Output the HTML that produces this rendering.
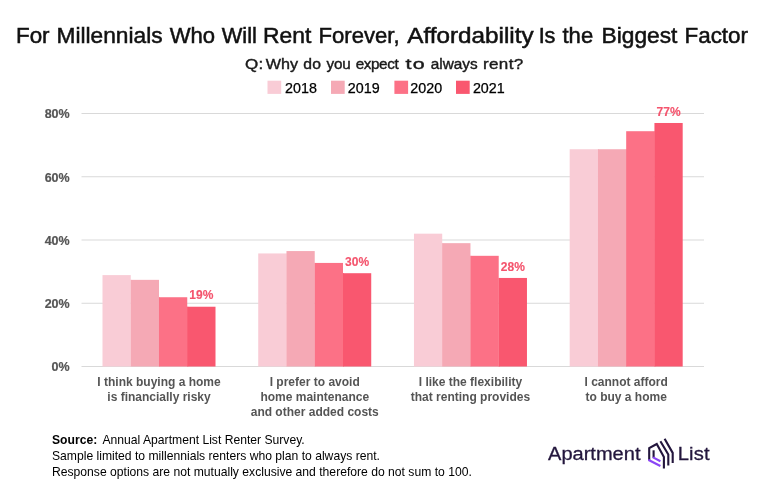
<!DOCTYPE html>
<html><head><meta charset="utf-8"><title>Chart</title>
<style>
html,body{margin:0;padding:0;background:#fff;}
svg{display:block;}
text{font-family:"Liberation Sans",Arial,Helvetica,sans-serif;}
.title{font-size:21.7px;fill:#111;stroke:#111;stroke-width:0.5px;}
.sub{font-size:14.8px;fill:#1a1a1a;stroke:#1a1a1a;stroke-width:0.4px;}
.leg{font-size:14.3px;fill:#000;stroke:#000;stroke-width:0.25px;}
.ax{font-size:12.5px;font-weight:bold;fill:#555;stroke:#555;stroke-width:0.2px;}
.cat{font-size:12px;font-weight:bold;fill:#555;}
.val{font-size:12px;font-weight:bold;fill:#f4546d;stroke:#f4546d;stroke-width:0.15px;}
.src{font-size:12.15px;fill:#000;}
.logo{font-size:19px;fill:#23163d;stroke:#23163d;stroke-width:0.3px;}
</style></head><body>
<svg width="764" height="497" viewBox="0 0 764 497">
<rect width="764" height="497" fill="#ffffff"/>
<text class="title" transform="translate(16.00,43.2) scale(1.0323,1)" textLength="32.53">For</text>
<text class="title" transform="translate(56.50,43.2) scale(1.0479,1)" textLength="101.25">Millennials</text>
<text class="title" transform="translate(169.75,43.2) scale(1.0169,1)" textLength="44.59">Who</text>
<text class="title" transform="translate(221.75,43.2) scale(1.0074,1)" textLength="34.94">Will</text>
<text class="title" transform="translate(263.00,43.2) scale(1.0562,1)" textLength="45.81">Rent</text>
<text class="title" transform="translate(318.50,43.2) scale(1.0196,1)" textLength="79.56">Forever,</text>
<text class="title" transform="translate(407.25,43.2) scale(1.1192,1)" textLength="112.92">Affordability</text>
<text class="title" transform="translate(538.75,43.2) scale(1.0000,1)" textLength="16.62">Is</text>
<text class="title" transform="translate(562.50,43.2) scale(1.0169,1)" textLength="30.16">the</text>
<text class="title" transform="translate(601.50,43.2) scale(1.0493,1)" textLength="72.34">Biggest</text>
<text class="title" transform="translate(684.50,43.2) scale(1.0333,1)" textLength="61.47">Factor</text>
<text class="sub" transform="translate(245.00,68.9) scale(1.1500,1)" textLength="15.84">Q:</text>
<text class="sub" transform="translate(265.75,68.9) scale(1.0924,1)" textLength="29.61">Why</text>
<text class="sub" transform="translate(303.25,68.9) scale(1.0635,1)" textLength="16.70">do</text>
<text class="sub" transform="translate(326.50,68.9) scale(1.0300,1)" textLength="23.62">you</text>
<text class="sub" transform="translate(355.75,68.9) scale(1.0300,1)" textLength="41.67">expect</text>
<text class="sub" transform="translate(405.60,68.9) scale(1.4500,1)" textLength="13.21">to</text>
<text class="sub" transform="translate(430.75,68.9) scale(1.0393,1)" textLength="45.23">always</text>
<text class="sub" transform="translate(483.00,68.9) scale(1.1500,1)" textLength="35.04">rent?</text>
<rect x="267.5" y="80.7" width="13.7" height="13.2" fill="#f9ccd6"/><text class="leg" x="285.1" y="92.7">2018</text>
<rect x="331" y="80.7" width="13.7" height="13.2" fill="#f5a9b5"/><text class="leg" x="347.8" y="92.7">2019</text>
<rect x="394.4" y="80.7" width="13.7" height="13.2" fill="#fc7186"/><text class="leg" x="410.3" y="92.7">2020</text>
<rect x="456" y="80.7" width="13.7" height="13.2" fill="#f9576f"/><text class="leg" x="472.9" y="92.7">2021</text>
<line x1="81.5" x2="704" y1="366.5" y2="366.5" stroke="#d9d9d9" stroke-width="1"/><text class="ax" x="69.7" y="371.40" text-anchor="end">0%</text>
<line x1="81.5" x2="704" y1="303.25" y2="303.25" stroke="#d9d9d9" stroke-width="1"/><text class="ax" x="69.7" y="308.15" text-anchor="end">20%</text>
<line x1="81.5" x2="704" y1="240.0" y2="240.0" stroke="#d9d9d9" stroke-width="1"/><text class="ax" x="69.7" y="244.90" text-anchor="end">40%</text>
<line x1="81.5" x2="704" y1="176.75" y2="176.75" stroke="#d9d9d9" stroke-width="1"/><text class="ax" x="69.7" y="181.65" text-anchor="end">60%</text>
<line x1="81.5" x2="704" y1="113.5" y2="113.5" stroke="#d9d9d9" stroke-width="1"/><text class="ax" x="69.7" y="118.40" text-anchor="end">80%</text>
<rect x="102.50" y="275.10" width="28.25" height="91.40" fill="#f9ccd6"/><rect x="130.65" y="279.85" width="1.1" height="86.65" fill="#f9ccd6"/><rect x="130.75" y="279.85" width="28.25" height="86.65" fill="#f5a9b5"/><rect x="158.90" y="297.24" width="1.1" height="69.26" fill="#f5a9b5"/><rect x="159.00" y="297.24" width="28.25" height="69.26" fill="#fc7186"/><rect x="187.15" y="306.73" width="1.1" height="59.77" fill="#fc7186"/><rect x="187.25" y="306.73" width="28.25" height="59.77" fill="#f9576f"/><text class="val" x="201.38" y="299.33" text-anchor="middle">19%</text>
<text class="cat" x="159.00" y="386.3" text-anchor="middle">I think buying a home</text>
<text class="cat" x="159.00" y="400.9" text-anchor="middle">is financially risky</text>
<rect x="258.23" y="253.44" width="28.25" height="113.06" fill="#f9ccd6"/><rect x="286.38" y="253.44" width="1.1" height="113.06" fill="#f9ccd6"/><rect x="286.48" y="251.07" width="28.25" height="115.43" fill="#f5a9b5"/><rect x="314.63" y="262.93" width="1.1" height="103.57" fill="#f5a9b5"/><rect x="314.73" y="262.93" width="28.25" height="103.57" fill="#fc7186"/><rect x="342.88" y="273.21" width="1.1" height="93.29" fill="#fc7186"/><rect x="342.98" y="273.21" width="28.25" height="93.29" fill="#f9576f"/><text class="val" x="357.11" y="265.81" text-anchor="middle">30%</text>
<text class="cat" x="314.73" y="386.3" text-anchor="middle">I prefer to avoid</text>
<text class="cat" x="314.73" y="400.9" text-anchor="middle">home maintenance</text>
<text class="cat" x="314.73" y="415.5" text-anchor="middle">and other added costs</text>
<rect x="413.96" y="233.67" width="28.25" height="132.83" fill="#f9ccd6"/><rect x="442.11" y="243.16" width="1.1" height="123.34" fill="#f9ccd6"/><rect x="442.21" y="243.16" width="28.25" height="123.34" fill="#f5a9b5"/><rect x="470.36" y="255.81" width="1.1" height="110.69" fill="#f5a9b5"/><rect x="470.46" y="255.81" width="28.25" height="110.69" fill="#fc7186"/><rect x="498.61" y="277.95" width="1.1" height="88.55" fill="#fc7186"/><rect x="498.71" y="277.95" width="28.25" height="88.55" fill="#f9576f"/><text class="val" x="512.84" y="270.55" text-anchor="middle">28%</text>
<text class="cat" x="470.46" y="386.3" text-anchor="middle">I like the flexibility</text>
<text class="cat" x="470.46" y="400.9" text-anchor="middle">that renting provides</text>
<rect x="569.69" y="149.24" width="28.25" height="217.26" fill="#f9ccd6"/><rect x="597.84" y="149.24" width="1.1" height="217.26" fill="#f9ccd6"/><rect x="597.94" y="149.24" width="28.25" height="217.26" fill="#f5a9b5"/><rect x="626.09" y="149.24" width="1.1" height="217.26" fill="#f5a9b5"/><rect x="626.19" y="131.21" width="28.25" height="235.29" fill="#fc7186"/><rect x="654.34" y="131.21" width="1.1" height="235.29" fill="#fc7186"/><rect x="654.44" y="122.99" width="28.25" height="243.51" fill="#f9576f"/><text class="val" x="668.56" y="115.59" text-anchor="middle">77%</text>
<text class="cat" x="626.19" y="386.3" text-anchor="middle">I cannot afford</text>
<text class="cat" x="626.19" y="400.9" text-anchor="middle">to buy a home</text>
<text class="src" x="52" y="443.5"><tspan font-weight="bold">Source:</tspan><tspan dx="5.3">Annual</tspan> Apartment List Renter Survey.</text>
<text class="src" x="52" y="459.5">Sample limited to millennials renters who plan to always rent.</text>
<text class="src" x="52" y="475.5">Response options are not mutually exclusive and therefore do not sum to 100.</text>
<text class="logo" transform="translate(548.00,459.8) scale(1.0553,1)" textLength="87.66">Apartment</text>
<text class="logo" transform="translate(677.80,459.8) scale(1.0632,1)" textLength="29.81">List</text>
<g fill="none" stroke-width="2.1" stroke-linecap="butt" stroke-linejoin="miter">
<path d="M649.2 460.3 L649.2 448.2 L656.75 444.0 L663.9 457.1 L663.9 468.5" stroke="#23163d"/>
<path d="M653.6 450.3 L653.6 457.7" stroke="#23163d"/>
<path d="M660.4 441.2 L668.3 454.5 L668.3 465.5" stroke="#23163d"/>
<path d="M664.6 438.8 L672.7 452.9 L672.7 462.9" stroke="#23163d"/>
<path d="M649.2 459.3 L649.2 460.3 L660.4 466" stroke="#8b45f5"/>
<path d="M653.6 456.7 L653.6 457.7 L660.4 461.3" stroke="#8b45f5"/>
</g>
</svg></body></html>
